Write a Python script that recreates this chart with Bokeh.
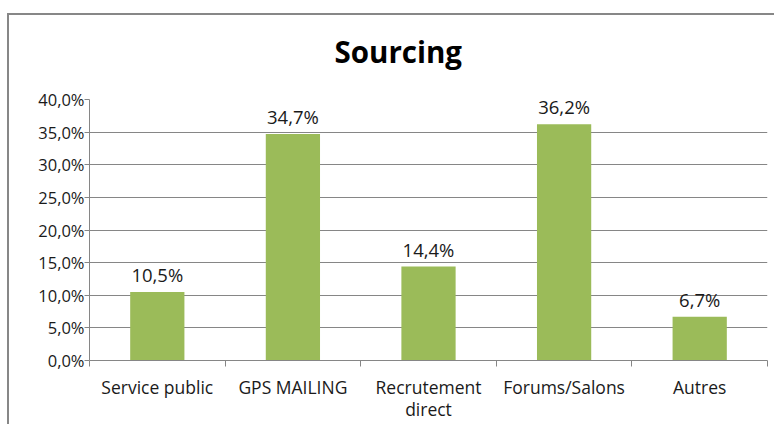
from bokeh.plotting import figure
from bokeh.models import FixedTicker, ColumnDataSource, Range1d
from bokeh.core.properties import value
from bokeh.embed import file_html
from bokeh.resources import INLINE

categories = ["Service public", "GPS MAILING", "Recrutement\ndirect", "Forums/Salons", "Autres"]
values = [10.5, 34.7, 14.4, 36.2, 6.7]
y_ticks = [0, 5, 10, 15, 20, 25, 30, 35, 40]
y_tick_labels = ["0,0%", "5,0%", "10,0%", "15,0%", "20,0%", "25,0%", "30,0%", "35,0%", "40,0%"]
title_text = "Sourcing"

FONT = "Open Sans"
GRID = "#868686"
TEXT = "#1a1a1a"
BORDER = "#878787"

xs = [i + 0.5 for i in range(len(categories))]
labels = [f"{v:.1f}".replace(".", ",") + "%" for v in values]
src = ColumnDataSource(dict(x=xs, top=values, label=labels))

p = figure(width=774, height=424, output_backend="svg", toolbar_location=None,
           x_range=Range1d(0, len(categories)), y_range=Range1d(0, y_ticks[-1]),
           min_border_left=89, min_border_right=7, min_border_top=99, min_border_bottom=52)
p.margin = (0, 0, 0, 0)
# chart-area border (top and left edges) drawn behind a transparent canvas
p.styles = {
    "background-color": "white",
    "box-shadow": (f"inset 7px 0 0 0 white, inset 0 13px 0 0 white, "
                   f"inset 9px 0 0 0 {BORDER}, inset 0 15px 0 0 {BORDER}"),
}
p.outline_line_color = None
p.background_fill_color = "white"
p.border_fill_color = None

p.title.text = title_text
p.title.align = "left"
p.title.offset = 245
p.title.standoff = 55
p.title.text_font = FONT
p.title.text_font_size = "29.5px"
p.title.text_font_style = "bold"
p.title.text_color = "#000000"

p.vbar(x="x", top="top", width=0.4, bottom=0, source=src, fill_color="#9BBB59", line_color=None)
p.text(x="x", y="top", text="label", source=src, text_align="center", text_baseline="bottom",
       y_offset=-5, text_font=value(FONT), text_font_size="18.5px", text_color=TEXT)

# x axis
p.xaxis.ticker = FixedTicker(ticks=xs, minor_ticks=list(range(len(categories) + 1)))
p.xaxis.major_label_overrides = {x: c for x, c in zip(xs, categories)}
p.xaxis.major_tick_out = 0
p.xaxis.major_tick_in = 0
p.xaxis.minor_tick_out = 6
p.xaxis.minor_tick_in = 0
p.xaxis.minor_tick_line_color = GRID
p.xaxis.axis_line_color = GRID
p.xaxis.major_label_standoff = 8
p.xaxis.major_label_text_font = FONT
p.xaxis.major_label_text_font_size = "17.5px"
p.xaxis.major_label_text_line_height = 0.95
p.xaxis.major_label_text_color = TEXT
p.xgrid.visible = False

# y axis
p.yaxis.ticker = FixedTicker(ticks=y_ticks, minor_ticks=[])
p.yaxis.major_label_overrides = {t: l for t, l in zip(y_ticks, y_tick_labels)}
p.yaxis.major_tick_out = 5
p.yaxis.major_tick_in = 0
p.yaxis.major_tick_line_color = GRID
p.yaxis.axis_line_color = GRID
p.yaxis.major_label_standoff = 0
p.yaxis.major_label_text_font = FONT
p.yaxis.major_label_text_font_size = "16.5px"
p.yaxis.major_label_text_color = TEXT
p.ygrid.grid_line_color = GRID
p.ygrid.grid_line_width = 1

open("out.html", "w").write(file_html(p, INLINE))
